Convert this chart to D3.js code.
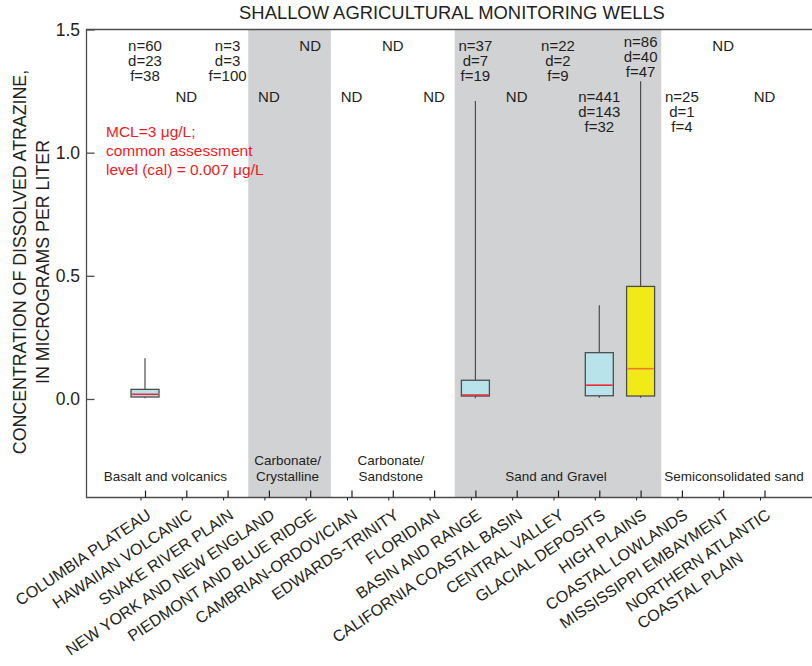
<!DOCTYPE html>
<html>
<head>
<meta charset="utf-8">
<script src="https://cdn.jsdelivr.net/npm/d3@7/dist/d3.min.js"></script>
<style>
  html, body { margin: 0; padding: 0; background: #fff; }
  svg { display: block; font-family: "Liberation Sans", Arial, Helvetica, sans-serif; }
</style>
</head>
<body>
<svg id="chart" width="812" height="666"></svg>
<script>
// Principal aquifer categories along the x axis
const categories = [
  "COLUMBIA PLATEAU", "HAWAIIAN VOLCANIC", "SNAKE RIVER PLAIN",
  "NEW YORK AND NEW ENGLAND", "PIEDMONT AND BLUE RIDGE",
  "CAMBRIAN-ORDOVICIAN", "EDWARDS-TRINITY", "FLORIDIAN",
  "BASIN AND RANGE", "CALIFORNIA COASTAL BASIN", "CENTRAL VALLEY",
  "GLACIAL DEPOSITS", "HIGH PLAINS",
  "COASTAL LOWLANDS", "MISSISSIPPI EMBAYMENT", "NORTHERN ATLANTIC\nCOASTAL PLAIN"
];

// Rock-type groups: first and last category index, shaded or not
const groupNames  = ["Basalt and volcanics", "Carbonate/\nCrystalline", "Carbonate/\nSandstone", "Sand and Gravel", "Semiconsolidated sand"];
const groupFirst  = [0, 3, 5, 8, 13];
const groupLast   = [2, 4, 7, 12, 15];
const groupShaded = [false, true, false, true, false];

// Box-plot statistics (micrograms per liter) for aquifers with detections
const boxCategory = ["COLUMBIA PLATEAU", "BASIN AND RANGE", "GLACIAL DEPOSITS", "HIGH PLAINS"];
const boxLow      = [0.003, 0.003, 0.005, 0.005];
const boxQ1       = [0.008, 0.012, 0.013, 0.012];
const boxMedian   = [0.019, 0.016, 0.056, 0.123];
const boxQ3       = [0.039, 0.076, 0.188, 0.457];
const boxHigh     = [0.165, 1.210, 0.381, 1.290];
const boxFill     = ["#b9e3eb", "#b9e3eb", "#b9e3eb", "#f2ea18"];
const boxMedColor = ["#ee2b36", "#ee2b36", "#ee2b36", "#f0782a"];

// Sample counts: n = wells, d = detections, f = detection frequency (percent); "ND" = not detected
const countLabels = [
  "n=60\nd=23\nf=38", "ND", "n=3\nd=3\nf=100", "ND", "ND", "ND", "ND", "ND",
  "n=37\nd=7\nf=19", "ND", "n=22\nd=2\nf=9", "n=441\nd=143\nf=32", "n=86\nd=40\nf=47",
  "n=25\nd=1\nf=4", "ND", "ND"
];
// Upper (0) or lower (1) label tier; High Plains sits a little higher (2)
const countTier = [0, 1, 0, 1, 0, 1, 0, 1, 0, 1, 0, 1, 2, 1, 0, 1];

const yTicks = [0.0, 0.5, 1.0, 1.5];
const title = "SHALLOW AGRICULTURAL MONITORING WELLS";
const yTitle = ["CONCENTRATION OF DISSOLVED ATRAZINE,", "IN MICROGRAMS PER LITER"];
const noteLines = ["MCL=3 \u03BCg/L;", "common assessment", "level (cal) = 0.007 \u03BCg/L"];

// ---- layout ----
const svg = d3.select("#chart");
const plotLeft = 86.5, plotRight = 813;
const y = d3.scaleLinear().domain([-0.4, 1.5]).range([497.5, 29.5]);
const x = d3.scaleLinear().domain([0, categories.length - 1]).range([145, 764.5]);
const plotTop = y(1.5), plotBottom = y(-0.4);
const ink = "#231f20";

// shaded group bands
groupShaded.forEach((s, g) => {
  if (!s) return;
  svg.append("rect")
    .attr("x", x(groupFirst[g] - 0.5)).attr("y", plotTop)
    .attr("width", x(groupLast[g] + 0.5) - x(groupFirst[g] - 0.5))
    .attr("height", plotBottom - plotTop)
    .attr("fill", "#d1d2d4");
});

// frame: top, left, bottom
svg.append("path")
  .attr("d", `M${plotRight},${plotTop}H${plotLeft}V${plotBottom}H${plotRight}`)
  .attr("fill", "none").attr("stroke", "#4d4d4f").attr("stroke-width", 1.3);

// y axis (ticks point inward)
const yAxis = d3.axisLeft(y).tickValues(yTicks).tickFormat(d3.format(".1f")).tickSize(-8).tickPadding(6.5);
const gy = svg.append("g").attr("transform", `translate(${plotLeft},0)`).call(yAxis);
gy.select(".domain").remove();
gy.selectAll(".tick line").attr("stroke", "#4d4d4f").attr("stroke-width", 1.3);
gy.selectAll(".tick text").attr("fill", ink).attr("font-size", 17.5).attr("font-family", "Liberation Sans, Arial, sans-serif");

// x axis ticks (inward) with category labels
const xAxis = d3.axisBottom(x).tickValues(d3.range(categories.length)).tickSize(-7).tickFormat("");
const gx = svg.append("g").attr("transform", `translate(0,${plotBottom})`).call(xAxis);
gx.select(".domain").remove();
gx.selectAll(".tick line").attr("stroke", "#231f20").attr("stroke-width", 1.2);
gx.selectAll(".tick").append("line")
  .attr("x1", -4.5).attr("x2", -4.5).attr("y1", 0).attr("y2", 3)
  .attr("stroke", "#231f20").attr("stroke-width", 1);

const angle = -34;
categories.forEach((c, i) => {
  const lines = c.split("\n");
  const g = svg.append("g")
    .attr("transform", `translate(${x(i) + 7},${plotBottom + 20}) rotate(${angle})`);
  const t0 = g.append("text").attr("text-anchor", "end")
    .attr("font-size", 16).attr("fill", ink).text(lines[0]);
  if (lines.length > 1) {
    const w = t0.node().getComputedTextLength();
    g.append("text").attr("text-anchor", "start").attr("x", -w).attr("y", 20.5)
      .attr("font-size", 16).attr("fill", ink).text(lines[1]);
  }
});

// group names
groupNames.forEach((name, g) => {
  const lines = name.split("\n");
  const x0 = g === 0 ? plotLeft : x(groupFirst[g] - 0.5);
  const x1 = x(groupLast[g] + 0.5);
  const last = g === groupNames.length - 1;
  const tx = last ? x0 + 3 : (x0 + x1) / 2 - 2;
  const t = svg.append("text")
    .attr("text-anchor", last ? "start" : "middle")
    .attr("font-size", 13.5).attr("fill", ink);
  lines.forEach((l, k) => {
    t.append("tspan").attr("x", tx)
      .attr("y", 480.5 - (lines.length - 1 - k) * 16).text(l);
  });
});

// box plots
boxCategory.forEach((c, k) => {
  const cx = x(categories.indexOf(c));
  const bw = 28;
  const g = svg.append("g");
  g.append("line").attr("x1", cx).attr("x2", cx)
    .attr("y1", y(boxHigh[k])).attr("y2", y(boxQ3[k]))
    .attr("stroke", "#4d4d4f").attr("stroke-width", 1.2);
  g.append("line").attr("x1", cx).attr("x2", cx)
    .attr("y1", y(boxQ1[k])).attr("y2", y(boxLow[k]))
    .attr("stroke", "#4d4d4f").attr("stroke-width", 1.2);
  g.append("rect")
    .attr("x", cx - bw / 2).attr("width", bw)
    .attr("y", y(boxQ3[k])).attr("height", y(boxQ1[k]) - y(boxQ3[k]))
    .attr("fill", boxFill[k]).attr("stroke", "#4d4d4f").attr("stroke-width", 1.3);
  g.append("line").attr("x1", cx - bw / 2 + 0.8).attr("x2", cx + bw / 2 - 0.8)
    .attr("y1", y(boxMedian[k])).attr("y2", y(boxMedian[k]))
    .attr("stroke", boxMedColor[k]).attr("stroke-width", 1.6);
});

// sample-count labels
const tierTop = [50.5, 102, 46.5];
countLabels.forEach((lab, i) => {
  const lines = lab.split("\n");
  const t = svg.append("text").attr("text-anchor", "middle")
    .attr("font-size", 15).attr("fill", ink);
  lines.forEach((l, k) => {
    t.append("tspan").attr("x", x(i)).attr("y", tierTop[countTier[i]] + k * 15).text(l);
  });
});

// regulatory note
const note = svg.append("text").attr("font-size", 15.5).attr("fill", "#ed1c24");
noteLines.forEach((l, k) => {
  note.append("tspan").attr("x", 106).attr("y", 137 + k * 19).text(l);
});

// titles
svg.append("text").attr("x", 452).attr("y", 18.5).attr("text-anchor", "middle")
  .attr("font-size", 18.4).attr("fill", ink).text(title);

yTitle.forEach((l, k) => {
  svg.append("text")
    .attr("transform", `translate(${26 + k * 23},262) rotate(-90)`)
    .attr("text-anchor", "middle").attr("font-size", 17.8).attr("fill", ink).text(l);
});
</script>
</body>
</html>
